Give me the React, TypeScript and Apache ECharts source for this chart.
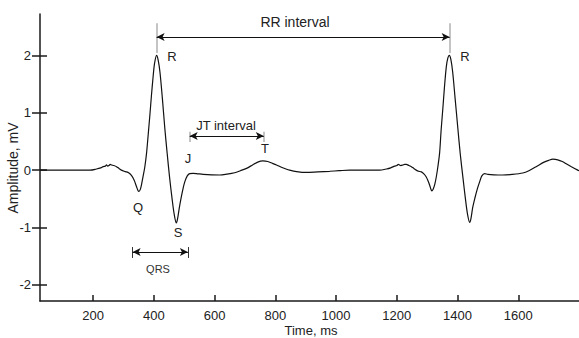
import { useEffect, useRef } from "react";
import * as echarts from "echarts";

// ECG trace: time (ms) and amplitude (mV)
const timeMs = [
  25, 100, 150, 190, 211, 225, 233, 240, 244, 248, 252, 256, 261, 268, 277, 285, 293, 302, 310, 318,
  326, 332, 337, 343, 348, 351, 355, 359, 364, 370, 376, 381, 387, 392, 397, 402, 409, 414, 420, 428,
  436, 444, 452, 460, 467, 474, 478, 484, 491, 497, 502, 510, 518, 529, 540, 562, 590, 617, 640, 666,
  685, 705, 725, 742, 759, 775, 790, 804, 820, 835, 847, 870, 902, 940, 979, 1010, 1045, 1100, 1143,
  1166, 1180, 1193, 1200, 1205, 1209, 1213, 1220, 1226, 1231, 1240, 1248, 1256, 1264, 1272, 1281, 1290,
  1297, 1303, 1308, 1313, 1316, 1320, 1325, 1330, 1335, 1341, 1346, 1352, 1357, 1363, 1368, 1373, 1378,
  1384, 1392, 1401, 1409, 1418, 1426, 1433, 1440, 1444, 1450, 1457, 1465, 1473, 1480, 1489, 1500, 1520,
  1549, 1580, 1615, 1635, 1659, 1685, 1700, 1714, 1730, 1745, 1758, 1775, 1796, 1800,
];
const amplitudeMv = [
  0, 0, 0, 0, 0.02, 0.04, 0.06, 0.07, 0.09, 0.07, 0.08, 0.1, 0.09, 0.08, 0.06, 0.03, 0.0, -0.02, -0.03, -0.05,
  -0.09, -0.14, -0.2, -0.29, -0.36, -0.37, -0.34, -0.26, -0.12, 0.05, 0.3, 0.6, 0.97, 1.3, 1.6, 1.85, 2.0, 1.92, 1.71, 1.25,
  0.73, 0.28, -0.14, -0.5, -0.77, -0.92, -0.85, -0.65, -0.45, -0.3, -0.2, -0.1, -0.06, -0.056, -0.06, -0.073, -0.083, -0.085, -0.07, -0.045,
  -0.01, 0.03, 0.09, 0.14, 0.16, 0.15, 0.12, 0.09, 0.05, 0.02, 0.0, -0.025, -0.04, -0.03, -0.02, -0.01, 0, 0, 0,
  0.02, 0.04, 0.07, 0.08, 0.1, 0.09, 0.08, 0.09, 0.1, 0.1, 0.08, 0.06, 0.03, 0.0, -0.02, -0.03, -0.07,
  -0.12, -0.19, -0.26, -0.34, -0.36, -0.33, -0.25, -0.12, 0.05, 0.3, 0.7, 1.1, 1.45, 1.8, 1.95, 2.0, 1.93,
  1.71, 1.25, 0.73, 0.28, -0.14, -0.5, -0.77, -0.91, -0.85, -0.65, -0.49, -0.33, -0.2, -0.1, -0.06, -0.073, -0.082,
  -0.085, -0.075, -0.05, -0.01, 0.06, 0.14, 0.17, 0.19, 0.18, 0.15, 0.11, 0.06, 0.0, -0.01,
];

const xTickValues = [200, 400, 600, 800, 1000, 1200, 1400, 1600];
const yTickValues = [-2, -1, 0, 1, 2];

// Annotation anchors (data coordinates)
const rPeakTimes = [409, 1374];
const rrArrowY = 2.32;
const rrGuideY = [2.04, 2.56];
const jtTimes = [518, 762];
const jtArrowY = 0.594;
const jtGuideY = [0.49, 0.67];
const qrsTimes = [330, 512];
const qrsArrowY = -1.427;
const qrsGuideY = [-1.53, -1.34];

// Annotation texts
const waveLabels = [
  { text: "R", x: 172, y: 56 },
  { text: "R", x: 465, y: 56 },
  { text: "J", x: 188, y: 158 },
  { text: "T", x: 265, y: 148 },
  { text: "Q", x: 138, y: 207 },
  { text: "S", x: 178, y: 232 },
];

const FONT = "'Liberation Sans', Arial, sans-serif";

export default function App() {
  const ref = useRef<HTMLDivElement>(null);

  useEffect(() => {
    if (!ref.current) return;
    const chart = echarts.init(ref.current, undefined, { renderer: "svg" });
    const data = timeMs.map((t, i) => [t, amplitudeMv[i]]);

    const arrowSeg = (x1: number, x2: number, y: number) => [
      { coord: [x1, y], symbol: "arrow" },
      { coord: [x2, y], symbol: "arrow" },
    ];
    const guideSeg = (x: number, y1: number, y2: number, color: string, width: number) => [
      { coord: [x, y1], symbol: "none", lineStyle: { color, width, type: "solid" } },
      { coord: [x, y2], symbol: "none" },
    ];

    const axisColor = "#1a1a1a";
    const textColor = "#222";

    chart.setOption({
      animation: false,
      grid: { left: 40, right: 0, top: 14, bottom: 37, containLabel: false },
      xAxis: {
        type: "value",
        min: 25,
        max: 1800,
        axisLine: { show: true, onZero: false, lineStyle: { color: axisColor, width: 1.5 } },
        axisTick: { show: true, inside: true, length: 6, customValues: xTickValues, lineStyle: { color: axisColor, width: 1.5 } },
        axisLabel: {
          show: true,
          customValues: xTickValues,
          margin: 8,
          color: textColor,
          fontSize: 13,
          fontFamily: FONT,
          formatter: (v: number) => String(v),
        },
        splitLine: { show: false },
      },
      yAxis: [
        {
          type: "value",
          min: -2.28,
          max: 2.72,
          axisLine: { show: true, onZero: false, lineStyle: { color: axisColor, width: 1.5 } },
          axisTick: { show: true, inside: true, length: 7, customValues: yTickValues, lineStyle: { color: axisColor, width: 1.5 } },
          axisLabel: {
            show: true,
            customValues: yTickValues,
            margin: 9,
            color: textColor,
            fontSize: 13,
            fontFamily: FONT,
            formatter: (v: number) => String(v),
          },
          splitLine: { show: false },
        },
        {
          type: "value",
          min: -2.28,
          max: 2.72,
          position: "left",
          axisLine: { show: false },
          axisTick: { show: true, inside: false, length: 8, customValues: yTickValues, lineStyle: { color: axisColor, width: 1.5 } },
          axisLabel: { show: false },
          splitLine: { show: false },
        },
      ],
      series: [
        {
          type: "line",
          data,
          showSymbol: false,
          smooth: 0.3,
          lineStyle: { color: "#111", width: 1.2 },
          silent: true,
          markLine: {
            silent: true,
            symbol: ["arrow", "arrow"],
            symbolSize: [6, 8],
            label: { show: false },
            lineStyle: { color: "#111", width: 1, type: "solid" },
            emphasis: { disabled: true },
            data: [
              guideSeg(rPeakTimes[0], rrGuideY[0], rrGuideY[1], "#c4c4c4", 2),
              guideSeg(rPeakTimes[1], rrGuideY[0], rrGuideY[1], "#c4c4c4", 2),
              guideSeg(jtTimes[0], jtGuideY[0], jtGuideY[1], "#c4c4c4", 2),
              guideSeg(jtTimes[1], jtGuideY[0], jtGuideY[1], "#c4c4c4", 2),
              guideSeg(qrsTimes[0], qrsGuideY[0], qrsGuideY[1], "#333", 1),
              guideSeg(qrsTimes[1], qrsGuideY[0], qrsGuideY[1], "#333", 1),
              arrowSeg(rPeakTimes[0], rPeakTimes[1], rrArrowY),
              arrowSeg(jtTimes[0], jtTimes[1], jtArrowY),
              arrowSeg(qrsTimes[0], qrsTimes[1], qrsArrowY),
            ],
          },
        },
      ],
      graphic: [
        {
          type: "text",
          x: 13,
          y: 168,
          rotation: Math.PI / 2,
          style: { text: "Amplitude, mV", font: `14px ${FONT}`, fill: textColor, align: "center", verticalAlign: "middle" },
        },
        {
          type: "text",
          x: 311,
          y: 330,
          style: { text: "Time, ms", font: `13px ${FONT}`, fill: textColor, align: "center", verticalAlign: "middle" },
        },
        {
          type: "text",
          x: 295,
          y: 22,
          style: { text: "RR interval", font: `14px ${FONT}`, fill: textColor, align: "center", verticalAlign: "middle" },
        },
        {
          type: "text",
          x: 226,
          y: 125,
          style: { text: "JT interval", font: `13px ${FONT}`, fill: textColor, align: "center", verticalAlign: "middle" },
        },
        {
          type: "text",
          x: 158,
          y: 269,
          style: { text: "QRS", font: `11px ${FONT}`, fill: "#333", align: "center", verticalAlign: "middle" },
        },
        ...waveLabels.map((l) => ({
          type: "text",
          x: l.x,
          y: l.y,
          style: { text: l.text, font: `13px ${FONT}`, fill: textColor, align: "center", verticalAlign: "middle" },
        })),
      ],
    });

    return () => chart.dispose();
  }, []);

  return (
    <div
      ref={ref}
      style={{ position: "fixed", left: 0, top: 0, width: 579, height: 338, background: "#fff" }}
    />
  );
}
